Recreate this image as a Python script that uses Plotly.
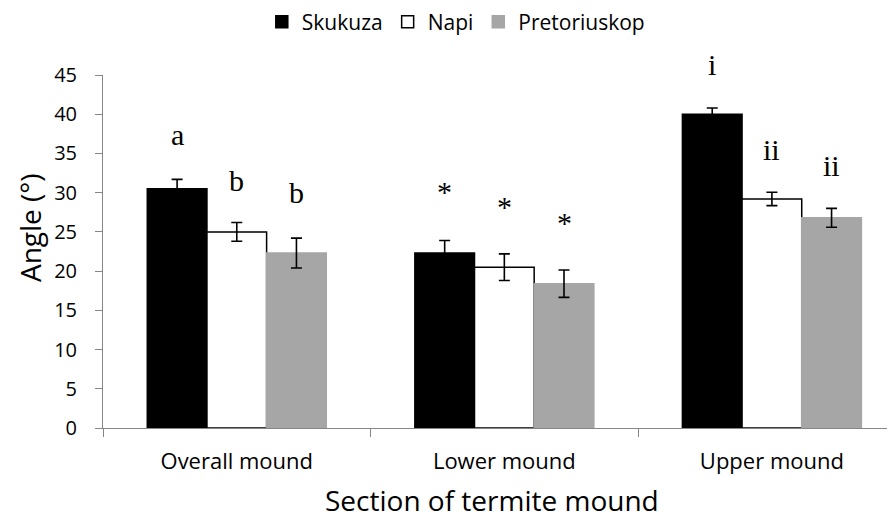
import plotly.graph_objects as go

# ---- data ----
sections = ["Overall mound", "Lower mound", "Upper mound"]

skukuza = [30.5, 22.3, 40.0]
skukuza_err = [1.2, 1.6, 0.8]
napi = [25.0, 20.5, 29.2]
napi_err = [1.2, 1.7, 0.85]
pretoriuskop = [22.3, 18.4, 26.8]
pretoriuskop_err = [1.9, 1.75, 1.2]

# significance letters: (section index, site offset -1/0/+1, text, y centre)
sig_section = [0, 0, 0, 1, 1, 1, 2, 2, 2]
sig_site = [-1, 0, 1, -1, 0, 1, -1, 0, 1]
sig_text = ["a", "b", "b", "*", "*", "*", "i", "ii", "ii"]
sig_y = [37.4, 31.5, 30.0, 30.1, 28.3, 26.2, 46.4, 35.5, 33.5]

Y_MAX = 45
AXIS = "#868686"
FONT = "Open Sans"
BAR_W = 0.223   # width of one bar in category units

fig = go.Figure()

series = [
    ("Skukuza", skukuza, skukuza_err, "#000000", "#000000"),
    ("Napi", napi, napi_err, "#FFFFFF", "#000000"),
    ("Pretoriuskop", pretoriuskop, pretoriuskop_err, "#A6A6A6", "#A6A6A6"),
]
for name, vals, err, fill, edge in series:
    fig.add_trace(go.Bar(
        x=sections, y=vals, name=name,
        marker=dict(color=fill, line=dict(color=edge, width=1.5)),
        error_y=dict(type="data", array=err, color="#000000",
                     thickness=1.6, width=5.5),
    ))

# paper-referenced so the "i" above the top of the axis is not hidden
for sec, site, txt, yv in zip(sig_section, sig_site, sig_text, sig_y):
    fig.add_annotation(
        x=sec + site * BAR_W, xref="x", y=yv / Y_MAX, yref="paper",
        text=txt, showarrow=False, xanchor="center", yanchor="middle",
        font=dict(family="Liberation Serif", size=30, color="#000000"),
    )

# axis titles as free annotations so they sit where the reference has them
fig.add_annotation(
    x=-0.091, xref="paper", y=0.567, yref="paper",
    text="Angle (°)", textangle=-90, showarrow=False,
    xanchor="center", yanchor="middle",
    font=dict(family=FONT, size=28, color="#000000"),
)
fig.add_annotation(
    x=0.486, xref="paper", y=-0.205, yref="paper",
    text="Section of termite mound", showarrow=False,
    xanchor="center", yanchor="middle",
    font=dict(family=FONT, size=28, color="#000000"),
)

# the page body adds an 8px margin, so the margins here are 8px smaller
fig.update_layout(
    width=895, height=527,
    margin=dict(l=95, r=0, t=67, b=107, autoexpand=False),
    paper_bgcolor="white", plot_bgcolor="white",
    font=dict(family=FONT, size=22, color="#000000"),
    barmode="group", bargap=0.331, bargroupgap=0,
    showlegend=True,
    legend=dict(
        orientation="h", xanchor="center", x=0.441,
        yanchor="middle", y=1.15,
        font=dict(family=FONT, size=21), traceorder="normal",
    ),
    xaxis=dict(
        type="category", range=[-0.5, 2.49],
        showline=True, linecolor=AXIS, linewidth=1,
        ticks="outside", tickson="boundaries", ticklen=8, tickcolor=AXIS,
        showgrid=False, tickfont=dict(size=22),
        ticklabelstandoff=14,
    ),
    yaxis=dict(
        range=[0, Y_MAX], dtick=5,
        showline=True, linecolor=AXIS, linewidth=1,
        ticks="outside", ticklen=7, tickcolor=AXIS,
        showgrid=False, zeroline=False, tickfont=dict(size=20),
        ticklabelstandoff=14,
    ),
)

fig.write_html("out.html")
